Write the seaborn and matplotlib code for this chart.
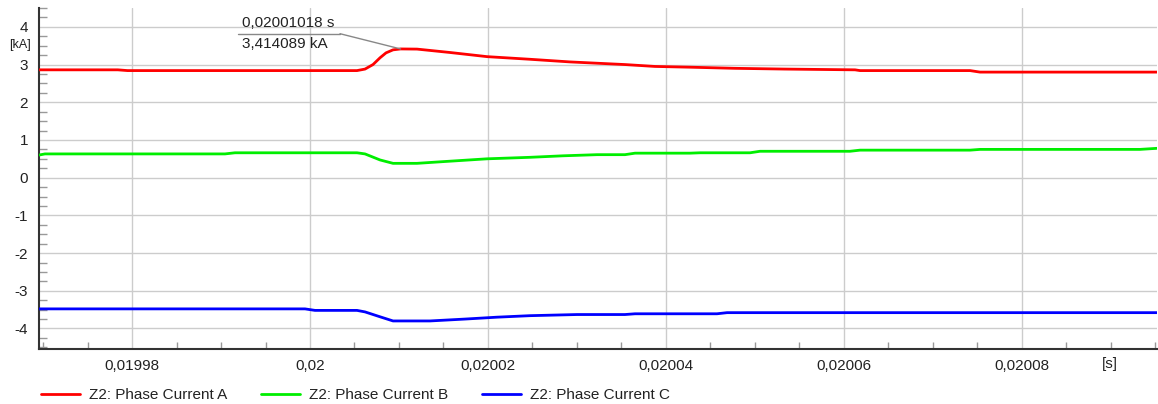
import matplotlib
matplotlib.use("Agg")
import matplotlib.pyplot as plt
from matplotlib.ticker import MultipleLocator, FuncFormatter
from matplotlib.lines import Line2D
import numpy as np
import pandas as pd
import seaborn as sns

# Phase currents of zone Z2 (time in s, current in kA)
time_a = [0.01996955, 0.01997840, 0.01997950, 0.02000528, 0.02000618, 0.02000708,
          0.02000787, 0.02000854, 0.02000933, 0.02001018, 0.02001202, 0.02001573,
          0.02001989, 0.02002472, 0.02002921, 0.02003539, 0.02003876, 0.02004270,
          0.02004775, 0.02005337, 0.02006124, 0.02006180, 0.02007416, 0.02007528,
          0.02009528]
current_a = [2.86, 2.86, 2.84, 2.84, 2.88, 3.00,
             3.18, 3.31, 3.39, 3.414089, 3.41, 3.32,
             3.21, 3.14, 3.07, 3.00, 2.95, 2.93,
             2.90, 2.88, 2.86, 2.84, 2.84, 2.80,
             2.80]

time_b = [0.01996955, 0.01997022, 0.01999045, 0.01999157, 0.02000528, 0.02000618,
          0.02000787, 0.02000933, 0.02001202, 0.02001460, 0.02001989, 0.02002472,
          0.02002843, 0.02003225, 0.02003539, 0.02003652, 0.02004270, 0.02004382,
          0.02004944, 0.02005056, 0.02006067, 0.02006180, 0.02007416, 0.02007528,
          0.02009326, 0.02009528]
current_b = [0.60, 0.63, 0.63, 0.66, 0.66, 0.63,
             0.47, 0.38, 0.38, 0.42, 0.50, 0.54,
             0.58, 0.61, 0.61, 0.65, 0.65, 0.66,
             0.66, 0.70, 0.70, 0.73, 0.73, 0.75,
             0.75, 0.78]

time_c = [0.01996955, 0.01999944, 0.02000056, 0.02000528, 0.02000618, 0.02000787,
          0.02000933, 0.02001348, 0.02001742, 0.02002101, 0.02002472, 0.02003000,
          0.02003539, 0.02003652, 0.02004573, 0.02004686, 0.02009528]
current_c = [-3.48, -3.48, -3.52, -3.52, -3.56, -3.69,
             -3.80, -3.80, -3.75, -3.70, -3.66, -3.63,
             -3.63, -3.61, -3.61, -3.58, -3.58]

series_names = ["Z2: Phase Current A", "Z2: Phase Current B", "Z2: Phase Current C"]
series_colors = ["#ff0000", "#00ee00", "#0000ff"]

cursor_time = 0.02001018
cursor_value = 3.414089

df = pd.concat([
    pd.DataFrame({"t": time_a, "v": current_a, "series": series_names[0]}),
    pd.DataFrame({"t": time_b, "v": current_b, "series": series_names[1]}),
    pd.DataFrame({"t": time_c, "v": current_c, "series": series_names[2]}),
], ignore_index=True)

sns.set_style("white")
plt.rcParams["font.family"] = ["Liberation Sans", "DejaVu Sans"]
plt.rcParams["axes.unicode_minus"] = False

W, H = 1158, 404
fig = plt.figure(figsize=(W / 100, H / 100), dpi=100)
ax = fig.add_axes([39 / W, (H - 349) / H, (1157 - 39) / W, (349 - 8) / H])

sns.lineplot(data=df, x="t", y="v", hue="series", palette=dict(zip(series_names, series_colors)),
             estimator=None, sort=False, lw=2, ax=ax, legend=False, zorder=3)

ax.set_xlim(0.01996955, 0.02009517)
ax.set_ylim(-4.544, 4.50)

ax.xaxis.set_major_locator(MultipleLocator(0.00002))
ax.xaxis.set_minor_locator(MultipleLocator(0.000005))
ax.yaxis.set_major_locator(MultipleLocator(1))
ax.yaxis.set_minor_locator(MultipleLocator(0.25))


def fmt_time(x, pos):
    s = f"{x:.8f}".rstrip("0").rstrip(".")
    return s.replace(".", ",")


ax.xaxis.set_major_formatter(FuncFormatter(fmt_time))
ax.yaxis.set_major_formatter(FuncFormatter(lambda y, p: f"{int(round(y))}"))

ax.grid(True, which="major", color="#cccccc", lw=1)
ax.set_axisbelow(True)
for side in ("top", "right"):
    ax.spines[side].set_visible(False)
for side in ("left", "bottom"):
    ax.spines[side].set_color("#333333")
    ax.spines[side].set_linewidth(1.5)

ax.tick_params(axis="both", which="both", direction="in", colors="#999999",
               labelcolor="#222222", labelsize=11, bottom=True, left=True,
               top=False, right=False)
ax.tick_params(axis="x", which="major", length=0, pad=7)
ax.tick_params(axis="x", which="minor", length=5, width=1)
ax.tick_params(axis="y", which="major", length=0, pad=8)
ax.tick_params(axis="y", which="minor", length=6, width=1)
ax.set_xlabel("")
ax.set_ylabel("")

# unit labels
fig.text(20 / W, 1 - 45 / H, "[kA]", fontsize=9, color="#222222", ha="center", va="center")
fig.text(1110 / W, 1 - 364 / H, "[s]", fontsize=11, color="#222222", ha="center", va="center")

# cursor readout
ax.annotate("", xy=(cursor_time, cursor_value), xycoords="data",
            xytext=(340 / W, 1 - 33.7 / H), textcoords="figure fraction",
            arrowprops=dict(arrowstyle="-", color="#888888", lw=1, shrinkA=0, shrinkB=0))
fig.add_artist(Line2D([238 / W, 340 / W], [1 - 33.7 / H, 1 - 33.7 / H],
                      color="#888888", lw=1, transform=fig.transFigure))
fig.text(242 / W, 1 - 23 / H, f"{cursor_time:.8f} s".replace(".", ","), fontsize=11,
         color="#222222", ha="left", va="center")
fig.text(242 / W, 1 - 43.5 / H, f"{cursor_value:.6f} kA".replace(".", ","), fontsize=11,
         color="#222222", ha="left", va="center")

# legend below the plot
handles = [Line2D([], [], color=c, lw=2) for c in series_colors]
fig.legend(handles, series_names, loc="center left", bbox_to_anchor=(27 / W, 1 - 395 / H),
           ncol=3, frameon=False, fontsize=11, handlelength=2.6, handletextpad=0.55,
           columnspacing=2.2, labelcolor="#222222")

fig.savefig("out.png", dpi=100)
